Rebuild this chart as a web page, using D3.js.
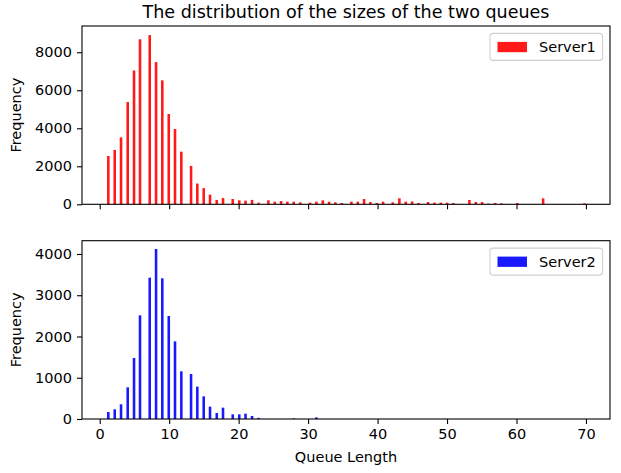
<!DOCTYPE html>
<html>
<head>
<meta charset="utf-8">
<script src="https://cdn.jsdelivr.net/npm/d3@7"></script>
<style>
  body { margin: 0; background: #fff; }
  text { font-family: "DejaVu Sans", sans-serif; fill: #000; }
</style>
</head>
<body>
<svg id="chart"></svg>
<script>
const width = 621;
const height = 473;

// bin centres shared by both histograms (queue length)
const binCenters = [1.24, 2.16, 3.07, 4.03, 4.94, 5.80, 7.20, 8.11, 9.01, 9.94,
  10.84, 11.75, 13.15, 14.05, 14.97, 15.88, 16.85, 17.75, 19.15, 20.09,
  20.99, 21.93, 22.87, 24.28, 25.20, 26.11, 27.01, 27.93, 28.88, 30.28,
  31.19, 32.11, 33.02, 33.92, 34.85, 36.23, 37.15, 38.06, 38.96, 39.88,
  40.79, 42.19, 43.14, 44.06, 44.97, 45.88, 47.27, 48.18, 49.10, 50.01,
  50.91, 53.22, 54.14, 55.05, 55.95, 56.92, 57.83, 60.13, 63.83, 69.78];

const server1 = [2540, 2860, 3520, 5380, 7040, 8680, 8900, 7480, 6520, 4750,
  3960, 2770, 2020, 1090, 850, 510, 230, 330, 280, 210,
  190, 230, 85, 210, 137, 174, 137, 137, 105, 84,
  137, 210, 137, 105, 70, 137, 137, 279, 120, 70,
  137, 105, 315, 137, 150, 70, 120, 88, 88, 88,
  70, 226, 120, 120, 35, 70, 52, 70, 315, 52];

const server2 = [170, 235, 356, 768, 1479, 2513, 3426, 4121, 3410, 2497,
  1883, 1156, 1091, 784, 549, 299, 145, 275, 113, 113,
  129, 73, 28, 0, 0, 0, 0, 15, 0, 0,
  40];

const xTicks = [0, 10, 20, 30, 40, 50, 60, 70];
const y1Ticks = [0, 2000, 4000, 6000, 8000];
const y2Ticks = [0, 1000, 2000, 3000, 4000];

const svg = d3.select("#chart")
  .attr("width", width)
  .attr("height", height);

const left = 82, right = 610;
const barHalf = 0.185;

const xScale = d3.scaleLinear()
  .domain([-2.55, 73.46])
  .range([left, right]);

const panels = [
  { name: "Server1", values: server1, color: "rgba(255,0,0,0.9)", top: 26, bottom: 204.3, max: 9380, ticks: y1Ticks, labels: false },
  { name: "Server2", values: server2, color: "rgba(0,0,255,0.9)", top: 240.7, bottom: 419, max: 4322, ticks: y2Ticks, labels: true }
];

panels.forEach(p => {
  const yScale = d3.scaleLinear()
    .domain([0, p.max])
    .range([p.bottom, p.top]);

  const g = svg.append("g");

  const data = p.values.map((v, i) => [binCenters[i], v]).filter(d => d[1] > 0);

  g.selectAll(".bar")
    .data(data)
    .enter()
    .append("rect")
    .attr("class", "bar")
    .attr("x", d => xScale(d[0] - barHalf))
    .attr("width", d => xScale(d[0] + barHalf) - xScale(d[0] - barHalf))
    .attr("y", d => yScale(d[1]))
    .attr("height", d => p.bottom - yScale(d[1]))
    .attr("fill", p.color);

  const xAxis = d3.axisBottom(xScale)
    .tickValues(xTicks)
    .tickSize(5)
    .tickPadding(5)
    .tickFormat(p.labels ? d3.format("d") : "");

  const yAxis = d3.axisLeft(yScale)
    .tickValues(p.ticks)
    .tickSize(5)
    .tickPadding(5)
    .tickFormat(d3.format("d"));

  const xa = g.append("g")
    .attr("transform", `translate(0, ${p.bottom})`)
    .call(xAxis);
  const ya = g.append("g")
    .attr("transform", `translate(${left}, 0)`)
    .call(yAxis);

  [xa, ya].forEach(a => {
    a.select(".domain").remove();
    a.selectAll(".tick line").attr("stroke", "#000").attr("stroke-width", 1.1);
    a.selectAll(".tick text").attr("font-size", "14.5px").attr("font-family", "DejaVu Sans");
  });

  g.append("rect")
    .attr("x", left)
    .attr("y", p.top)
    .attr("width", right - left)
    .attr("height", p.bottom - p.top)
    .attr("fill", "none")
    .attr("stroke", "#000")
    .attr("stroke-width", 1.1);

  g.append("text")
    .attr("transform", `translate(21, ${(p.top + p.bottom) / 2}) rotate(-90)`)
    .attr("text-anchor", "middle")
    .attr("font-size", "14.5px")
    .text("Frequency");

  // legend
  const lg = g.append("g").attr("transform", `translate(490, ${p.top + 7.4})`);
  lg.append("rect")
    .attr("width", 112.6)
    .attr("height", 27)
    .attr("rx", 3)
    .attr("fill", "rgba(255,255,255,0.8)")
    .attr("stroke", "#d0d0d0")
    .attr("stroke-width", 1.1);
  lg.append("rect")
    .attr("x", 7.5)
    .attr("y", 8.5)
    .attr("width", 29.5)
    .attr("height", 10.3)
    .attr("fill", p.color);
  lg.append("text")
    .attr("x", 49)
    .attr("y", 18.8)
    .attr("font-size", "14.5px")
    .text(p.name);
});

svg.append("text")
  .attr("x", (left + right) / 2)
  .attr("y", 18)
  .attr("text-anchor", "middle")
  .attr("font-size", "17.5px")
  .text("The distribution of the sizes of the two queues");

svg.append("text")
  .attr("x", (left + right) / 2)
  .attr("y", 462)
  .attr("text-anchor", "middle")
  .attr("font-size", "14.5px")
  .text("Queue Length");
</script>
</body>
</html>
